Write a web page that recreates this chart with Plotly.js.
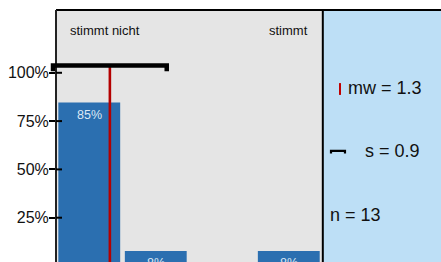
<!DOCTYPE html>
<html><head><meta charset="utf-8">
<script src="https://cdn.plot.ly/plotly-3.0.1.min.js"></script>
<style>html,body{margin:0;padding:0;background:#fff}#c{width:441px;height:262px}</style>
</head><body><div id="c"></div>
<script>
const categories = [1, 2, 3, 4];
const percents = [84.6, 7.7, 0, 7.7];
const meanValue = 1.31;
const sdValue = 0.855;
const nValue = 13;
const leftLabel = "stimmt nicht";
const rightLabel = "stimmt";
const yTicks = [25, 50, 75, 100];
const yTickText = ["25%", "50%", "75%", "100%"];

const FONT = "Liberation Sans, Arial, sans-serif";
const dom = 0.691;
const xRange = [0.5, 4.5], yRange = [2.07, 132.5];
const sdY = 103.8, capY = 100.8;
// convert data coords to paper coords (for the unclipped sd bracket)
const px = v => (v - xRange[0]) / (xRange[1] - xRange[0]) * dom;
const py = v => (v - yRange[0]) / (yRange[1] - yRange[0]);

const traces = [
  {type: 'bar', x: categories, y: percents, width: 0.93,
   marker: {color: '#2b6fb0'}, hoverinfo: 'skip'},
  {type: 'scatter', mode: 'lines', x: [meanValue, meanValue], y: [0, sdY],
   line: {color: '#b40000', width: 2.6}, hoverinfo: 'skip'}
];

const lo = meanValue - sdValue, hi = meanValue + sdValue;
const sdPath = `M ${px(lo)} ${py(capY)} L ${px(lo)} ${py(sdY)} L ${px(hi)} ${py(sdY)} L ${px(hi)} ${py(capY)}`;

const tickShapes = yTicks.map(v => ({
  type: 'line', xref: 'x', yref: 'y', xsizemode: 'pixel', xanchor: xRange[0],
  x0: 0, x1: 6, y0: v, y1: v, line: {color: '#000', width: 2}
}));

const barLabels = categories.map((c, i) => ({
  xref: 'x', yref: 'y', x: c, y: percents[i], yanchor: 'top', yshift: -3,
  text: percents[i] > 0 ? Math.round(percents[i]) + '%' : '', showarrow: false,
  font: {size: 12.5, family: FONT, color: '#dce8f5'}
})).filter(a => a.text !== '');

const layout = {
  width: 441, height: 262,
  margin: {l: 56, r: 0, t: 10, b: 0},
  paper_bgcolor: '#ffffff', plot_bgcolor: '#e5e5e5',
  showlegend: false,
  font: {family: FONT, color: '#111'},
  xaxis: {domain: [0, dom], range: xRange, showticklabels: false, ticks: '',
          showgrid: false, zeroline: false, showline: false, fixedrange: true},
  yaxis: {range: yRange, tickvals: yTicks, ticktext: yTickText,
          ticks: 'outside', ticklen: 6, tickwidth: 2, tickcolor: '#000',
          ticklabelstandoff: -3,
          tickfont: {size: 16, family: FONT, color: '#111'},
          showgrid: false, zeroline: false, showline: false, fixedrange: true},
  shapes: [
    {type: 'rect', xref: 'paper', yref: 'paper', x0: dom, x1: 1, y0: 0, y1: 1,
     fillcolor: '#bddff6', line: {width: 0}, layer: 'below'},
    {type: 'line', xref: 'paper', yref: 'paper', x0: 0, x1: 1, y0: 1, y1: 1,
     line: {color: '#000', width: 2}},
    {type: 'line', xref: 'paper', yref: 'paper', x0: 0, x1: 0, y0: 0, y1: 1,
     line: {color: '#222', width: 2}},
    {type: 'line', xref: 'paper', yref: 'paper', x0: dom + 0.002, x1: dom + 0.002, y0: 0, y1: 1,
     line: {color: '#000', width: 2}},
    {type: 'path', xref: 'paper', yref: 'paper', path: sdPath,
     line: {color: '#000', width: 4.5}},
    {type: 'line', xref: 'paper', yref: 'paper', x0: 0.7377, x1: 0.7377, y0: 0.663, y1: 0.710,
     line: {color: '#c00000', width: 2}},
    {type: 'path', xref: 'paper', yref: 'paper',
     path: 'M 0.7143 0.431 L 0.7143 0.441 L 0.7506 0.441 L 0.7506 0.431',
     line: {color: '#000', width: 2.2}}
  ].concat(tickShapes),
  annotations: [
    {xref: 'paper', yref: 'paper', x: 0.032, y: 0.917, xanchor: 'left', yanchor: 'middle',
     text: leftLabel, showarrow: false, font: {size: 13, family: FONT, color: '#111'}},
    {xref: 'paper', yref: 'paper', x: 0.66, y: 0.917, xanchor: 'right', yanchor: 'middle',
     text: rightLabel, showarrow: false, font: {size: 13, family: FONT, color: '#111'}},
    {xref: 'paper', yref: 'paper', x: 0.753, y: 0.692, xanchor: 'left', yanchor: 'middle',
     text: 'mw = ' + meanValue.toFixed(1), showarrow: false, font: {size: 18, family: FONT, color: '#111'}},
    {xref: 'paper', yref: 'paper', x: 0.7975, y: 0.441, xanchor: 'left', yanchor: 'middle',
     text: 's = ' + sdValue.toFixed(1), showarrow: false, font: {size: 18, family: FONT, color: '#111'}},
    {xref: 'paper', yref: 'paper', x: 0.7065, y: 0.186, xanchor: 'left', yanchor: 'middle',
     text: 'n = ' + nValue, showarrow: false, font: {size: 18, family: FONT, color: '#111'}}
  ].concat(barLabels)
};
Plotly.newPlot('c', traces, layout, {displayModeBar: false, staticPlot: true});
</script></body></html>
